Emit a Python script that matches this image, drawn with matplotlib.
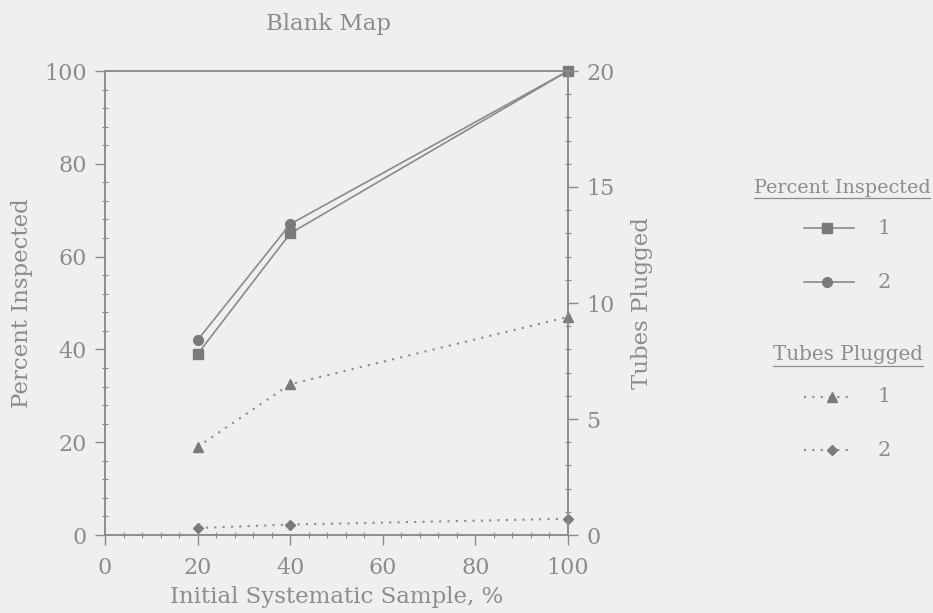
import matplotlib.pyplot as plt
from matplotlib.ticker import MultipleLocator

# ── Data ──────────────────────────────────────────────────────────────────────
sample_pct = [20, 40, 100]

inspected_1 = [39, 65, 100]
inspected_2 = [42, 67, 100]

plugged_1 = [3.8, 6.5, 9.4]
plugged_2 = [0.3, 0.45, 0.7]

series_labels = ['1', '2']
# ─────────────────────────────────────────────────────────────────────────────

INK = '#8a8a8a'
MK = '#7a7a7a'
TXT = '#8c8c8c'
BG = '#efefef'

plt.rcParams['font.family'] = 'DejaVu Serif'
plt.rcParams['text.color'] = TXT
plt.rcParams['axes.labelcolor'] = TXT
plt.rcParams['xtick.color'] = INK
plt.rcParams['ytick.color'] = INK
plt.rcParams['xtick.labelcolor'] = TXT
plt.rcParams['ytick.labelcolor'] = TXT

W, H = 933, 613
fig = plt.figure(figsize=(W / 100, H / 100), dpi=100, facecolor=BG)

x0, x1, y0, y1 = 105, 568, 535, 71
ax = fig.add_axes([x0 / W, 1 - y0 / H, (x1 - x0) / W, (y0 - y1) / H])
ax.set_facecolor(BG)
ax2 = ax.twinx()

sq_style = dict(color=INK, lw=1.2, marker='s', ms=7, mfc=MK, mec=MK)
ci_style = dict(color=INK, lw=1.2, marker='o', ms=7, mfc=MK, mec=MK)
tr_style = dict(color=INK, lw=1.5, ls=(0, (1, 3)), marker='^', ms=7,
                mfc=MK, mec=MK)
di_style = dict(color=INK, lw=1.5, ls=(0, (1, 3)), marker='D', ms=5.5,
                mfc=MK, mec=MK)

ax.plot(sample_pct, inspected_1, clip_on=False, **sq_style)
ax.plot(sample_pct, inspected_2, clip_on=False, **ci_style)
ax2.plot(sample_pct, plugged_1, clip_on=False, **tr_style)
ax2.plot(sample_pct, plugged_2, clip_on=False, **di_style)

ax.set_xlim(0, 100)
ax.set_ylim(0, 100)
ax2.set_ylim(0, 20)

for a in (ax, ax2):
    for s in a.spines.values():
        s.set_color(INK)
        s.set_linewidth(1.1)

ax.xaxis.set_major_locator(MultipleLocator(20))
ax.xaxis.set_minor_locator(MultipleLocator(4))
ax.yaxis.set_major_locator(MultipleLocator(20))
ax.yaxis.set_minor_locator(MultipleLocator(4))
ax2.yaxis.set_major_locator(MultipleLocator(5))
ax2.yaxis.set_minor_locator(MultipleLocator(1))

for a in (ax, ax2):
    a.tick_params(which='major', direction='out', length=7, width=1.0,
                  labelsize=16, pad=6)
    a.tick_params(which='minor', direction='inout', length=5, width=0.8)
ax.tick_params(axis='x', pad=9)

ax.set_xlabel('Initial Systematic Sample, %', fontsize=16.5, labelpad=5)
ax.set_ylabel('Percent Inspected', fontsize=16.5, labelpad=8)
ax2.set_ylabel('Tubes Plugged', fontsize=16.5, labelpad=12)
fig.text(329 / W, 1 - 24 / H, 'Blank Map', fontsize=16.5, color=TXT,
         ha='center', va='center')

# ── Legend, drawn in figure pixel space ──
lg = fig.add_axes([0, 0, 1, 1], facecolor='none')
lg.set_xlim(0, W)
lg.set_ylim(H, 0)
lg.axis('off')


def header(x, y, text, size):
    return lg.text(x, y, text, fontsize=size, ha='center', va='center',
                   color=TXT)


def entry(y, label, style, marker_x):
    lg.plot([804, 854], [y, y], color=style['color'], lw=style['lw'],
            ls=style.get('ls', '-'))
    st = {k: v for k, v in style.items() if k not in ('color', 'lw', 'ls')}
    lg.plot([marker_x], [y], ls='none', **st)
    lg.text(884, y, label, fontsize=15, ha='center', va='center', color=TXT)


h1 = header(842, 188, 'Percent Inspected', 13.8)
entry(228, series_labels[0], sq_style, 827)
entry(282, series_labels[1], ci_style, 827)
h2 = header(848, 355, 'Tubes Plugged', 14.3)
entry(397, series_labels[0], tr_style, 832)
entry(450, series_labels[1], di_style, 832)

# underline the two legend headers
fig.canvas.draw()
inv = lg.transData.inverted()
for t in (h1, h2):
    bb = t.get_window_extent()
    (ux0, uy), (ux1, _) = inv.transform([[bb.x0, bb.y0], [bb.x1, bb.y1]])
    lg.plot([ux0, ux1], [uy + 1, uy + 1], color=TXT, lw=0.9)

fig.savefig('out.png', dpi=100, facecolor=BG)
